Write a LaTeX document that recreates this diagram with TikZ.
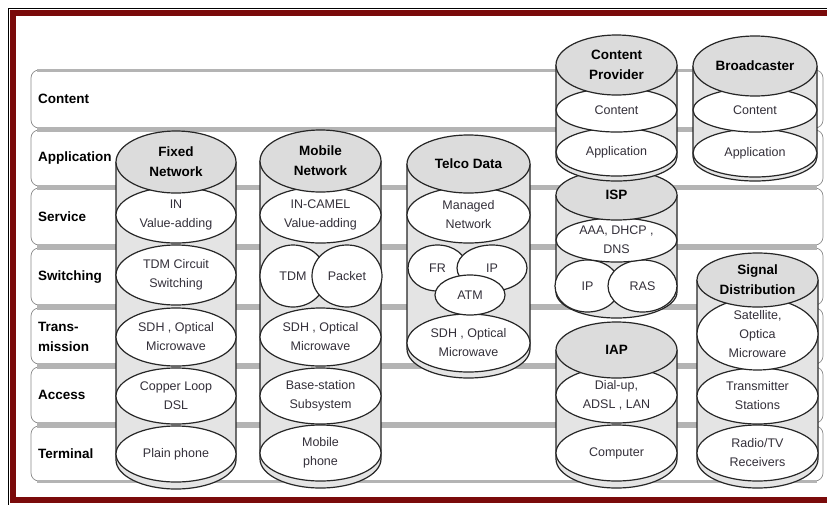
\documentclass[tikz,border=0pt]{standalone}
\usepackage{fontspec}
\setmainfont{Liberation Sans}
\usetikzlibrary{shapes.geometric}
\definecolor{framered}{HTML}{7A0A0A}
\definecolor{rowedgegray}{HTML}{B4B4B4}
\definecolor{rowside}{HTML}{8A8A8A}
\definecolor{cylgray}{HTML}{E4E4E4}
\definecolor{capgray}{HTML}{DCDCDC}
\definecolor{inktext}{HTML}{34303A}

% one horizontal layer band: name, top, bottom
\newcommand\layerrow[3]{%
  \draw[rowbox] (31,#2) rectangle (823,#3);
  \draw[rowedge] (37,#2) -- (817,#2);
  \draw[rowedge] (37,#3) -- (817,#3);
  \coordinate (#1) at (31,#2);}
% cylinder body: centre x, half width, top y, bottom y, bottom radius
\newcommand\cylbody[5]{%
  \filldraw[cylbody] ({#1-#2},#3) -- ({#1-#2},#4)
    arc[start angle=180,end angle=0,x radius=#2,y radius=#5] -- ({#1+#2},#3);}
% white layer disc with its text: name, x, y, width, height, text
\newcommand\lay[6]{%
  \node[layer,minimum width=#4pt,minimum height=#5pt] (#1) at (#2,#3) {};
  \node[laytext] (#1-t) at (#1.center) {#6};}
% grey cap disc with its bold title
\newcommand\capn[6]{%
  \node[layer,fill=capgray,minimum width=#4pt,minimum height=#5pt] (#1) at (#2,#3) {};
  \node[captext] (#1-t) at (#1.center) {#6};}

\begin{document}
\begin{tikzpicture}[x=1pt,y=-1pt,
  rowbox/.style={draw=rowside,line width=0.7pt,rounded corners=8pt,fill=white},
  rowedge/.style={draw=rowedgegray,line width=3pt},
  rowlabel/.style={anchor=west,font=\fontsize{13.5}{20}\selectfont\bfseries,align=left,inner sep=0pt},
  cylbody/.style={fill=cylgray,draw=black!85,line width=1.2pt},
  layer/.style={ellipse,draw=black!85,line width=1.2pt,fill=white,inner sep=0pt},
  laytext/.style={inner sep=0pt,align=center,text=inktext,font=\fontsize{12.5}{19}\selectfont},
  captext/.style={inner sep=0pt,align=center,text=black,font=\fontsize{13.5}{20}\selectfont\bfseries},
]
\useasboundingbox (0,0) rectangle (827,504);
\clip (0,0) rectangle (827,504);
\fill[white] (0,0) rectangle (827,504);

% outer frame
\draw[black,line width=0.8pt] (8.5,8.5) rectangle (880,530);
\draw[framered,line width=6.5pt] (13,13) rectangle (880,500);

% layer bands
\layerrow{row-content}{70}{128}
\layerrow{row-app}{130}{186}
\layerrow{row-svc}{188}{245}
\layerrow{row-sw}{248}{305}
\layerrow{row-trans}{308}{364}
\layerrow{row-acc}{367}{423}
\layerrow{row-term}{426}{481}

\node[rowlabel] (lbl-content) at (38,99) {Content};
\node[rowlabel] (lbl-app) at (38,158) {Application};
\node[rowlabel] (lbl-svc) at (38,217) {Service};
\node[rowlabel] (lbl-sw) at (38,277) {Switching};
\node[rowlabel] (lbl-trans) at (38,337) {Trans-\\mission};
\node[rowlabel] (lbl-acc) at (38,395) {Access};
\node[rowlabel] (lbl-term) at (38,454) {Terminal};

% fixed network
\cylbody{176}{60}{162}{460}{29}
\lay{fx-term}{176}{454}{120}{56}{Plain phone}
\lay{fx-acc}{176}{396}{120}{56}{Copper Loop\\DSL}
\lay{fx-trans}{176}{337}{120}{58}{SDH , Optical\\Microwave}
\lay{fx-sw}{176}{275}{120}{60}{TDM Circuit\\Switching}
\lay{fx-svc}{176}{215}{120}{56}{IN\\Value-adding}
\capn{fx-top}{176}{162}{120}{62}{Fixed\\Network}

% mobile network
\cylbody{320.5}{60.5}{161}{459}{29}
\lay{mb-term}{320.5}{453}{121}{56}{Mobile\\phone}
\lay{mb-acc}{320.5}{396}{121}{56}{Base-station\\Subsystem}
\lay{mb-trans}{320.5}{337}{121}{58}{SDH , Optical\\Microwave}
\lay{mb-tdm}{293}{276}{66}{62}{TDM}
\lay{mb-pkt}{347}{276}{70}{62}{Packet}
\lay{mb-svc}{320.5}{215}{121}{56}{IN-CAMEL\\Value-adding}
\capn{mb-top}{320.5}{161}{121}{62}{Mobile\\Network}

% telco data
\cylbody{468.5}{61.5}{164}{349}{29}
\lay{td-trans}{468.5}{343}{123}{58}{SDH , Optical\\Microwave}
\lay{td-fr}{437.5}{268}{59}{46}{FR}
\lay{td-ip}{492}{268}{70}{46}{IP}
\lay{td-atm}{470}{295}{70}{40}{ATM}
\lay{td-svc}{468.5}{215}{123}{56}{Managed\\Network}
\capn{td-top}{468.5}{164}{123}{58}{Telco Data}

% internet service provider
\cylbody{616.5}{60.5}{195}{292}{26}
\lay{isp-ip}{587.5}{286}{65}{52}{IP}
\lay{isp-ras}{642.5}{286}{69}{52}{RAS}
\lay{isp-svc}{616.5}{240}{121}{44}{AAA, DHCP ,\\DNS}
\capn{isp-top}{616.5}{195}{121}{50}{ISP}

% content provider
\cylbody{616.5}{60.5}{65}{157}{24}
\lay{cp-app}{616.5}{152}{121}{48}{Application}
\lay{cp-cont}{616.5}{110}{121}{44}{Content}
\capn{cp-top}{616.5}{65}{121}{60}{Content\\Provider}

% internet access provider
\cylbody{616.5}{60.5}{350}{459}{29}
\lay{iap-term}{616.5}{453}{121}{56}{Computer}
\lay{iap-acc}{616.5}{395}{121}{56}{Dial-up,\\ADSL , LAN}
\capn{iap-top}{616.5}{350}{121}{56}{IAP}

% broadcaster
\cylbody{755}{62}{66}{157}{24}
\lay{bc-app}{755}{153}{124}{48}{Application}
\lay{bc-cont}{755}{110}{124}{44}{Content}
\capn{bc-top}{755}{66}{124}{60}{Broadcaster}

% signal distribution
\cylbody{757.5}{60.5}{280}{459}{29}
\lay{sd-term}{757.5}{453}{121}{56}{Radio/TV\\Receivers}
\lay{sd-acc}{757.5}{396}{121}{56}{Transmitter\\Stations}
\lay{sd-trans}{757.5}{334}{121}{72}{Satellite,\\Optica\\Microware}
\capn{sd-top}{757.5}{280}{121}{54}{Signal\\Distribution}
\end{tikzpicture}
\end{document}
